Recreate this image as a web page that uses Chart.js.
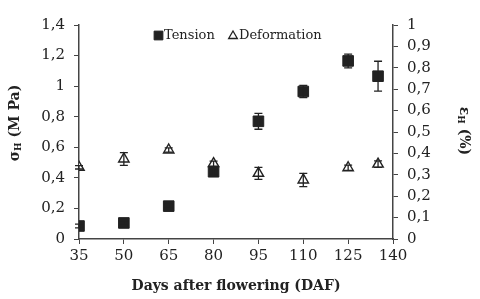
<!DOCTYPE html>
<html>
<head>
    <title>Tension / Deformation</title>
    <script src="https://cdn.jsdelivr.net/npm/chart.js@4/dist/chart.umd.min.js"></script>
    <style>
        html, body { margin: 0; padding: 0; background: #fff; }
        #wrap { width: 480px; height: 299px; }
    </style>
</head>
<body>
<div id="wrap"><canvas id="stage"></canvas></div>
<script>
    var days = [35, 50, 65, 80, 95, 110, 125, 135];
    var tension = [0.085, 0.105, 0.215, 0.44, 0.77, 0.965, 1.165, 1.065];
    var tensionErr = [0.012, 0.012, 0.012, 0.02, 0.052, 0.04, 0.045, 0.098];
    var deformation = [0.335, 0.374, 0.416, 0.352, 0.307, 0.276, 0.333, 0.35];
    var deformationErr = [0.008, 0.03, 0.01, 0.012, 0.028, 0.031, 0.012, 0.015];
    var xTicks = [35, 50, 65, 80, 95, 110, 125, 140];

    var ink = '#222';
    var axisCol = '#444';
    var serif = "'DejaVu Serif', 'Liberation Serif', serif";

    function comma(v) {
        return String(Number(v.toFixed(1))).replace('.', ',');
    }

    // error bars drawn from the data arrays through the chart scales
    var errorBars = {
        id: 'errorBars',
        afterDatasetsDraw: function (chart) {
            var ctx = chart.ctx;
            var x = chart.scales.x;
            var sets = [
                { vals: tension, err: tensionErr, scale: chart.scales.y },
                { vals: deformation, err: deformationErr, scale: chart.scales.y1 }
            ];
            ctx.save();
            ctx.strokeStyle = ink;
            ctx.lineWidth = 1.3;
            sets.forEach(function (s) {
                for (var i = 0; i < days.length; i++) {
                    var px = x.getPixelForValue(days[i]);
                    var top = s.scale.getPixelForValue(s.vals[i] + s.err[i]);
                    var bot = s.scale.getPixelForValue(s.vals[i] - s.err[i]);
                    ctx.beginPath();
                    ctx.moveTo(px, top); ctx.lineTo(px, bot);
                    ctx.moveTo(px - 4, top); ctx.lineTo(px + 4, top);
                    ctx.moveTo(px - 4, bot); ctx.lineTo(px + 4, bot);
                    ctx.stroke();
                }
            });
            ctx.restore();
        }
    };

    // axis titles, with the H subscripts
    function subTitle(ctx, cx, cy, rot, sym, rest) {
        ctx.save();
        ctx.translate(cx, cy);
        ctx.rotate(rot);
        ctx.fillStyle = ink;
        ctx.textBaseline = 'middle';
        var big = 'bold 14px ' + serif;
        var small = 'bold 9px ' + serif;
        ctx.font = big;
        var w1 = ctx.measureText(sym).width;
        var w3 = ctx.measureText(rest).width;
        ctx.font = small;
        var w2 = ctx.measureText('H').width;
        var x0 = -(w1 + w2 + w3) / 2;
        ctx.font = big;
        ctx.fillText(sym, x0, 0);
        ctx.font = small;
        ctx.fillText('H', x0 + w1, 4);
        ctx.font = big;
        ctx.fillText(rest, x0 + w1 + w2, 0);
        ctx.restore();
    }

    var titles = {
        id: 'titles',
        afterDraw: function (chart) {
            var ctx = chart.ctx;
            var area = chart.chartArea;
            subTitle(ctx, 15, 123, -Math.PI / 2, 'σ', ' (M Pa)');
            subTitle(ctx, 464, 131, Math.PI / 2, 'ε', ' (%)');
            ctx.save();
            ctx.fillStyle = ink;
            ctx.font = 'bold 14px ' + serif;
            ctx.textAlign = 'center';
            ctx.textBaseline = 'middle';
            ctx.fillText('Days after flowering (DAF)', (area.left + area.right) / 2, 286);

            // legend inside the plot, top centre
            var sets = chart.data.datasets;
            var drawPoint = Chart.helpers.drawPoint;
            ctx.font = '13px ' + serif;
            ctx.textAlign = 'left';
            var ly = 35.5;
            ctx.fillStyle = ink;
            ctx.strokeStyle = ink;
            ctx.lineWidth = 1;
            drawPoint(ctx, { pointStyle: 'rect', radius: 6.2, rotation: 0, borderWidth: 1 }, 158.5, ly);
            ctx.fillText(sets[0].label, 164, ly);
            ctx.fillStyle = '#fff';
            ctx.lineWidth = 1.3;
            drawPoint(ctx, { pointStyle: 'triangle', radius: 5, rotation: 0, borderWidth: 1.3 }, 233, ly + 0.5);
            ctx.fillStyle = ink;
            ctx.fillText(sets[1].label, 239, ly);
            ctx.restore();
        }
    };

    var tickFont = { family: serif, size: 15 };

    new Chart(document.getElementById('stage'), {
        type: 'scatter',
        data: {
            datasets: [
                {
                    label: 'Tension',
                    data: days.map(function (d, i) { return { x: d, y: tension[i] }; }),
                    yAxisID: 'y',
                    pointStyle: 'rect',
                    pointRadius: 7.5,
                    backgroundColor: ink,
                    borderColor: ink,
                    borderWidth: 1
                },
                {
                    label: 'Deformation',
                    data: days.map(function (d, i) { return { x: d, y: deformation[i] }; }),
                    yAxisID: 'y1',
                    pointStyle: 'triangle',
                    pointRadius: 6,
                    backgroundColor: '#fff',
                    borderColor: ink,
                    borderWidth: 1.4
                }
            ]
        },
        options: {
            responsive: true,
            maintainAspectRatio: false,
            animation: false,
            layout: { padding: { top: 25, left: 0, right: 0, bottom: 0 } },
            plugins: {
                tooltip: { enabled: false },
                legend: { display: false }
            },
            scales: {
                x: {
                    type: 'linear',
                    min: 35,
                    max: 140,
                    afterFit: function (s) { s.height = 60; },
                    afterBuildTicks: function (s) { s.ticks = xTicks.map(function (v) { return { value: v }; }); },
                    border: { display: true, color: axisCol, width: 1.5 },
                    grid: { drawOnChartArea: false, drawTicks: true, tickLength: 5, color: axisCol },
                    ticks: { color: ink, font: tickFont, padding: 3 }
                },
                y: {
                    position: 'left',
                    min: 0,
                    max: 1.4,
                    afterFit: function (s) { s.width = 79; },
                    border: { display: true, color: axisCol, width: 1.5 },
                    grid: { drawOnChartArea: false, drawTicks: true, tickLength: 5, color: axisCol },
                    ticks: { stepSize: 0.2, color: ink, font: tickFont, padding: 9, callback: comma }
                },
                y1: {
                    position: 'right',
                    min: 0,
                    max: 1,
                    afterFit: function (s) { s.width = 87; },
                    border: { display: true, color: axisCol, width: 1.5 },
                    grid: { drawOnChartArea: false, drawTicks: true, tickLength: 5, color: axisCol },
                    ticks: { stepSize: 0.1, color: ink, font: tickFont, padding: 9, callback: comma }
                }
            }
        },
        plugins: [errorBars, titles]
    });
</script>
</body>
</html>
